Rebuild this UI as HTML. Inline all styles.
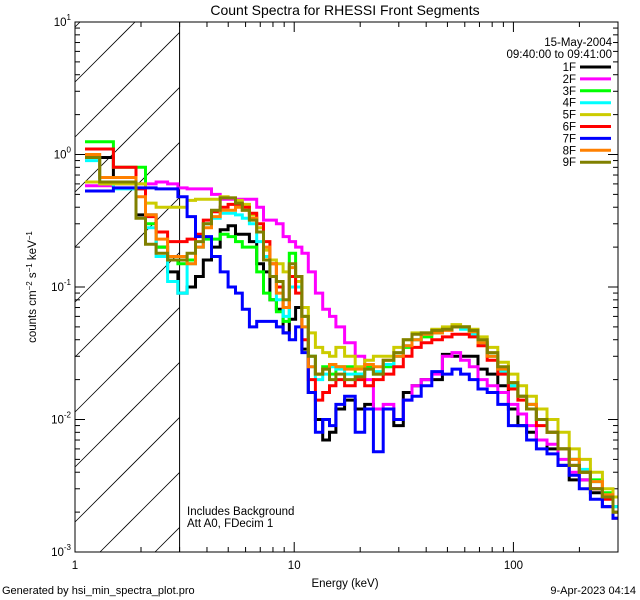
<!DOCTYPE html>
<html><head><meta charset="utf-8"><style>
html,body{margin:0;padding:0;background:#fff;width:640px;height:600px;overflow:hidden;}
svg{display:block;font-family:"Liberation Sans",sans-serif;}
</style></head><body>
<svg id="chart" width="640" height="600" viewBox="0 0 640 600" xmlns="http://www.w3.org/2000/svg">
<defs><clipPath id="pc"><rect x="75" y="22" width="543" height="530"/></clipPath></defs>
<rect width="640" height="600" fill="#fff"/>
<text x="345" y="15" font-size="14" text-anchor="middle">Count Spectra for RHESSI Front Segments</text>
<g id="hatch"></g>
<g id="axes"></g>
<g id="series" clip-path="url(#pc)"></g>
<rect x="75" y="22" width="543" height="530" fill="none" stroke="#000" stroke-width="1"/>
<text x="612" y="46" font-size="11.5" text-anchor="end">15-May-2004</text>
<text x="612" y="58" font-size="11.5" text-anchor="end">09:40:00 to 09:41:00</text>
<g id="legend"></g>
<text x="187" y="515" font-size="11.5">Includes Background</text>
<text x="187" y="527" font-size="11.5">Att A0, FDecim 1</text>
<text x="345" y="587" font-size="11.5" text-anchor="middle">Energy (keV)</text>
<text transform="translate(36,287) rotate(-90)" font-size="11.5" text-anchor="middle">counts cm<tspan dy="-4" font-size="8">−2</tspan><tspan dy="4"> s</tspan><tspan dy="-4" font-size="8">−1</tspan><tspan dy="4"> keV</tspan><tspan dy="-4" font-size="8">−1</tspan></text>
<text x="2" y="594" font-size="11">Generated by hsi_min_spectra_plot.pro</text>
<text x="636" y="594" font-size="11" text-anchor="end">9-Apr-2023 04:14</text>
</svg>
<script>
const energies=[1.2,1.4,1.6,1.8,2.0,2.2,2.5,2.8,3.1, 3.4,3.7,4.0,4.4,4.8,5.2,5.6,6.0, 6.5,7.0,7.5,8.0,8.6,9.2,9.8, 10.5,11.2,12,13,14,15,16,18, 20,22,24,27,30,33,36,40, 45,50,55,60,66,72,80,90, 100,110,120,135,150,170,190,210, 240,270,300];
const seriesNames=["1F","2F","3F","4F","5F","6F","7F","8F","9F"];
const s1F=[.95,.95,.67,.67,.35,.35,.2,.13,.09, .1,.12,.16,.2,.27,.29,.25,.25, .22,.15,.13,.08,.068,.045,.057, .07,.034,.016,.01,.007,.008,.012,.014, .012,.013,.012,.012,.009,.016,.018,.02, .02,.031,.03,.03,.03,.024,.022,.018, .012,.009,.008,.007,.006,.0045,.0035,.0035, .0028,.0022,.002];
const s2F=[.58,.58,.6,.6,.6,.6,.62,.6,.56, .55,.55,.55,.5,.46,.46,.46,.46, .46,.4,.32,.32,.3,.24,.22, .2,.18,.13,.09,.068,.06,.05,.038, .03,.02,.012,.013,.01,.014,.018,.02, .022,.03,.032,.028,.025,.02,.018,.016, .013,.011,.009,.007,.0065,.005,.004,.0035, .003,.0022,.002];
const s3F=[1.25,1.25,.8,.8,.8,.3,.2,.16,.15, .16,.2,.23,.23,.25,.24,.22,.2, .2,.13,.09,.08,.065,.055,.18, .12,.06,.03,.022,.025,.022,.025,.025, .022,.025,.022,.025,.03,.035,.04,.042, .045,.048,.05,.05,.045,.038,.03,.024, .018,.015,.013,.01,.008,.006,.005,.004, .0035,.0028,.0022];
const s4F=[.9,.6,.55,.55,.55,.28,.17,.11,.09, .15,.2,.3,.33,.36,.36,.35,.33, .3,.22,.17,.12,.08,.06,.1, .1,.05,.025,.02,.022,.025,.024,.022, .022,.024,.023,.026,.03,.036,.04,.044, .046,.048,.05,.048,.044,.037,.03,.023, .018,.015,.012,.01,.008,.006,.005,.0042, .0034,.0027,.0022];
const s5F=[.62,.6,.6,.6,.6,.43,.4,.4,.4, .45,.46,.46,.46,.48,.47,.45,.42, .35,.28,.19,.16,.15,.13,.12, .11,.07,.045,.035,.032,.03,.035,.03, .025,.028,.03,.03,.035,.04,.045,.045, .048,.05,.052,.05,.048,.042,.035,.027, .022,.018,.015,.012,.01,.008,.006,.005, .004,.003,.0026];
const s6F=[1.1,1.1,.8,.8,.55,.34,.26,.22,.22, .23,.25,.32,.37,.4,.42,.42,.4, .36,.3,.22,.15,.1,.07,.12, .09,.04,.02,.014,.016,.018,.02,.018, .02,.018,.02,.022,.025,.03,.035,.038, .04,.042,.044,.044,.042,.036,.028,.022, .017,.014,.012,.009,.008,.006,.0045,.004, .003,.0025,.0018];
const s7F=[.53,.53,.56,.56,.56,.56,.55,.55,.48, .34,.24,.24,.17,.13,.1,.09,.068, .05,.055,.055,.055,.05,.045,.04, .05,.032,.016,.008,.01,.009,.013,.015, .008,.012,.0057,.012,.01,.014,.015,.018, .023,.022,.024,.022,.02,.017,.016,.013, .009,.009,.007,.006,.0055,.0045,.0038,.003, .0025,.0022,.0018];
const s8F=[1.0,.67,.67,.67,.48,.35,.23,.17,.17, .15,.2,.28,.34,.38,.38,.4,.38, .33,.26,.2,.15,.09,.07,.14, .12,.05,.025,.022,.024,.026,.025,.024, .024,.026,.025,.028,.03,.036,.04,.044, .045,.047,.05,.05,.046,.038,.03,.024, .019,.015,.013,.01,.008,.006,.005,.004, .0034,.0027,.002];
const s9F=[.95,.62,.62,.62,.33,.21,.18,.16,.16, .18,.22,.3,.38,.47,.47,.43,.38, .32,.26,.16,.12,.11,.08,.15, .12,.06,.03,.022,.024,.02,.022,.02, .021,.024,.022,.028,.032,.04,.044,.045, .047,.048,.05,.05,.047,.04,.032,.025, .019,.015,.012,.01,.008,.006,.0045,.004, .003,.0026,.002];
const xTickLabels=["1","10","100"];
const yTickExps=[1,0,-1,-2,-3];
const seriesData=[s1F,s2F,s3F,s4F,s5F,s6F,s7F,s8F,s9F];
const colors=["#000000","#ff00ff","#00ff00","#00ffff","#cccc00","#ff0000","#0000ff","#ff8000","#808000"];

const NS="http://www.w3.org/2000/svg";
const X0=75,X1=618,Y0=22,Y1=552,XMIN=1,XMAX=300,YMIN=-3,YMAX=1;
const xs=e=>X0+(Math.log10(e)-Math.log10(XMIN))/(Math.log10(XMAX)-Math.log10(XMIN))*(X1-X0);
const ys=v=>Y1-(Math.log10(v)-YMIN)/(YMAX-YMIN)*(Y1-Y0);
function mk(tag,attrs,parent){const el=document.createElementNS(NS,tag);for(const k in attrs)el.setAttribute(k,attrs[k]);parent.appendChild(el);return el;}

const hatch=document.getElementById('hatch');
const xh=xs(3);
for(let c=137-55*3;c<700;c+=55){
  // line: y = c - (x - X0); clip to [X0,xh] x [Y0,Y1]
  let xa=X0, xb=xh;
  xa=Math.max(xa, X0+(c-Y1));
  xb=Math.min(xb, X0+(c-Y0));
  if(xb<=xa) continue;
  const l=mk('line',{x1:xa,y1:c-(xa-X0),x2:xb,y2:c-(xb-X0),stroke:'#000','stroke-width':0.8},hatch);
  
  
}
const vl=mk('line',{x1:xh,y1:Y0,x2:xh,y2:Y1,stroke:'#000','stroke-width':1},hatch);



const axes=document.getElementById('axes');
for(let d=0;d<3;d++){
  for(let m=1;m<10;m++){
    const e=Math.pow(10,d)*m; if(e>XMAX)break;
    const x=xs(e), L=(m===1)?10:5;
    const t1=mk('line',{x1:x,y1:Y1,x2:x,y2:Y1-L,stroke:'#000'},axes);
    
    
    const t2=mk('line',{x1:x,y1:Y0,x2:x,y2:Y0+L,stroke:'#000'},axes);
    
    
  }
}
xTickLabels.forEach(s=>{
  const t=mk('text',{x:xs(parseFloat(s)),y:Y1+17,'font-size':11.5,'text-anchor':'middle'},axes);
  t.textContent=s;
  
  
});
for(let d=YMIN;d<YMAX;d++){
  for(let m=1;m<10;m++){
    const v=Math.pow(10,d)*m, y=ys(v), L=(m===1)?10:5;
    const t1=mk('line',{x1:X0,y1:y,x2:X0+L,y2:y,stroke:'#000'},axes);
    
    
    const t2=mk('line',{x1:X1,y1:y,x2:X1-L,y2:y,stroke:'#000'},axes);
    
    
  }
}
yTickExps.forEach(p=>{
  const y=ys(Math.pow(10,p));
  const t=mk('text',{x:X0-4,y:y+4,'font-size':11.5,'text-anchor':'end'},axes);
  
  
  t.innerHTML='10<tspan dy="-6" font-size="8">'+p+'</tspan>';
});

const sg=document.getElementById('series');
seriesData.forEach((vals,si)=>{
  let d='';
  for(let i=0;i<energies.length;i++){
    const lo=i===0?energies[0]/Math.sqrt(energies[1]/energies[0]):Math.sqrt(energies[i-1]*energies[i]);
    const hi=i===energies.length-1?XMAX:Math.sqrt(energies[i]*energies[i+1]);
    const y=Math.min(Y1,Math.max(Y0,ys(vals[i]))).toFixed(1);
    d+=(i===0?'M':'L')+xs(lo).toFixed(1)+','+y+'L'+xs(hi).toFixed(1)+','+y;
  }
  const p=mk('path',{d:d,fill:'none',stroke:colors[si],'stroke-width':3,'stroke-linejoin':'miter'},sg);
  
  
});

const lg=document.getElementById('legend');
seriesNames.forEach((n,i)=>{
  const y=67+i*11.9;
  const t=mk('text',{x:576,y:y+4,'font-size':11.5,'text-anchor':'end'},lg);
  t.textContent=n;
  
  
  const l=mk('line',{x1:580,y1:y,x2:611,y2:y,stroke:colors[i],'stroke-width':3},lg);
  
  
});
</script>
</body></html>
